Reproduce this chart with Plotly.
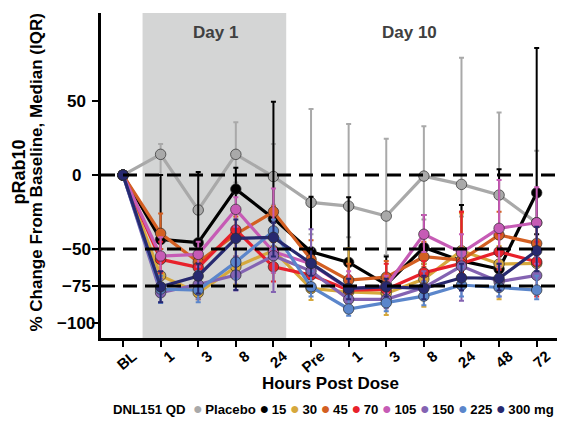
import plotly.graph_objects as go

# ---------------- data ----------------
tick_labels = ["BL", "1", "3", "8", "24", "Pre", "1", "3", "8", "24", "48", "72"]
x_idx = list(range(len(tick_labels)))

series_names = ["Placebo", "15", "30", "45", "70", "105", "150", "225", "300 mg"]
series_colors = ["#A9A9A9", "#000000", "#D6A83C", "#D35F22", "#E8212B",
                 "#C65BB5", "#8463B2", "#5B86CB", "#27296F"]

placebo = [0, 14, -23.6, 14, -1, -18.5, -21, -27.7, -0.7, -6.3, -13.5, -32.2]
d15 = [0, -43.5, -45.7, -9.5, -29.3, -51.8, -59, -74, -48.9, -58, -63.5, -12]
d30 = [0, -68, -79.5, -62, -51, -76.6, -79, -80, -70.3, -51.1, -60.1, -59.7]
d45 = [0, -39.4, -58.8, -40, -24.8, -57, -71, -69, -55.2, -57.4, -40.5, -46.2]
d70 = [0, -57, -62.4, -37, -62, -67.6, -77.7, -77.3, -66, -59.7, -51.8, -58.6]
d105 = [0, -54.7, -53.6, -23.2, -51.8, -60, -77, -75, -40, -52.5, -36, -32.2]
d150 = [0, -79.5, -73.9, -67.6, -54.5, -64.9, -84, -84, -76, -61.5, -72, -67.8]
d225 = [0, -77, -77.7, -58.8, -37.8, -75.5, -90.5, -86.3, -81.8, -74.3, -75.9, -77.7]
d300 = [0, -75.5, -68.2, -42.8, -42.1, -59.7, -76.6, -75.5, -76.6, -69.4, -69.8, -51.1]

# interquartile bounds (Q3 upper, Q1 lower)
placebo_q3 = [0, 21, 0, 35.6, 21, 44.6, 34.5, 24.5, 33, 79.3, 42.3, 16.4]
placebo_q1 = [0, 0, -45, -5, -20, -40, -42, -54, -30, -28, -34, -45]
d15_q3 = [0, 0, 2, 5, 49.5, -14.6, -15, -55, -27, -20.3, 4, 85.8]
d15_q1 = [0, -50, -55, -40, -45, -62, -68, -80, -60, -65, -72, -40]
d30_q3 = [0, -55, -60, -45, -40, -65, -49.5, -70, -60, -26, -48, -52]
d30_q1 = [0, -80, -84, -74, -66, -84.5, -85, -94.6, -89, -70, -84, -70]
d45_q3 = [0, -26, -50, -28, -21, -44, -60, -58, -45, -24.8, -24.8, -30]
d45_q1 = [0, -50, -68, -55, -45, -68, -78, -77, -62, -66, -55, -60]
d70_q3 = [0, -45, -55, -25, -50, -58, -68, -60, -58, -24.8, -40, -45]
d70_q1 = [0, -66, -72, -50, -72, -74, -82, -84, -72, -66, -64, -82]
d105_q3 = [0, -42, -45, -15, -9, -50, -65, -68, -27, -40, -3.4, -8.3]
d105_q1 = [0, -65, -62, -35, -66, -68, -82, -80, -52, -63, -62, -60]
d150_q3 = [0, -70, -65, -55, -40, -36.7, -75, -76, -65, -50, -60, -55]
d150_q1 = [0, -86, -84, -78, -79, -75, -90, -90, -84, -85, -82, -78]
d225_q3 = [0, -68, -65, -45, -30, -65, -82, -78, -72, -62, -68, -68]
d225_q1 = [0, -86.5, -86, -70, -50, -82, -95, -92, -88, -82, -82, -84]
d300_q3 = [0, -65, -60, -30, -32, -50, -70, -70, -68, -60, -60, -35]
d300_q1 = [0, -86, -80, -77.7, -55, -68, -84, -82, -84, -78, -78, -65]

y_ticks = [50, 0, -50, -75, -100]
y_tick_text = ["50", "0", "\u221250", "\u221275", "\u2212100"]
ref_lines = [0, -50, -75]

medians = [placebo, d15, d30, d45, d70, d105, d150, d225, d300]
q3s = [placebo_q3, d15_q3, d30_q3, d45_q3, d70_q3, d105_q3, d150_q3, d225_q3, d300_q3]
q1s = [placebo_q1, d15_q1, d30_q1, d45_q1, d70_q1, d105_q1, d150_q1, d225_q1, d300_q1]

FONT = "Liberation Sans"

# page body has an 8px margin; the plot area is placed to land at
# x 101..557, y 13..338 of the window
PL, PT, PW, PH = 93, 5, 456, 325

fig = go.Figure()

for name, col, med, hi, lo in zip(series_names, series_colors, medians, q3s, q1s):
    plus = [max(h - m, 0) for h, m in zip(hi, med)]
    minus = [max(m - l, 0) for l, m in zip(lo, med)]
    fig.add_trace(go.Scatter(
        x=x_idx, y=med, name=name, mode="lines+markers",
        line=dict(color=col, width=3.2),
        marker=dict(color=col, size=10.5, line=dict(color="rgba(40,40,40,0.85)", width=0.8)),
        error_y=dict(type="data", symmetric=False, array=plus, arrayminus=minus,
                     color=col, thickness=2, width=2.5),
        showlegend=False,
    ))

shapes = [dict(type="rect", xref="x", yref="paper", x0=0.52, x1=4.34, y0=0, y1=1,
               fillcolor="#D4D5D5", line=dict(width=0), layer="below")]
for v in ref_lines:
    shapes.append(dict(type="line", xref="paper", yref="y", x0=0, x1=1, y0=v, y1=v,
                       line=dict(color="black", width=3, dash="14px,8px"), layer="above"))

legend_text = "DNL151 QD  " + " ".join(
    f"<span style='color:{c};font-size:16px'>\u25CF</span>\u2009{n}"
    for n, c in zip(series_names, series_colors))


def px_x(px):
    return (px - 101) / PW


def px_y(py):
    return (338 - py) / PH


annotations = [
    dict(text="Day 1", x=2.45, y=96.6, xref="x", yref="y", showarrow=False,
         font=dict(family=FONT, size=17, color="#404040", weight="bold")),
    dict(text="Day 10", x=7.63, y=96.6, xref="x", yref="y", showarrow=False,
         font=dict(family=FONT, size=17, color="#404040", weight="bold")),
    dict(text="pRab10", x=px_x(18), y=px_y(172.5), xref="paper", yref="paper",
         textangle=-90, showarrow=False, xanchor="center", yanchor="middle",
         font=dict(family=FONT, size=18, color="black", weight="bold")),
    dict(text="% Change From Baseline, Median (IQR)", x=px_x(36), y=px_y(172.5),
         xref="paper", yref="paper", textangle=-90, showarrow=False,
         xanchor="center", yanchor="middle",
         font=dict(family=FONT, size=17, color="black", weight="bold")),
    dict(text="Hours Post Dose", x=px_x(330), y=px_y(383), xref="paper", yref="paper",
         showarrow=False, xanchor="center", yanchor="middle",
         font=dict(family=FONT, size=17, color="black", weight="bold")),
    dict(text=legend_text, x=px_x(333), y=px_y(408), xref="paper", yref="paper",
         showarrow=False, xanchor="center", yanchor="middle",
         font=dict(family=FONT, size=13.2, color="black", weight="bold")),
]
for v, t in zip(y_ticks, y_tick_text):
    annotations.append(dict(text=t, x=px_x(76), y=v, xref="paper", yref="y",
                            showarrow=False, xanchor="center", yanchor="middle",
                            font=dict(family=FONT, size=17, color="black", weight="bold")))

fig.update_layout(
    width=570 - 8, height=428 - 8,
    margin=dict(l=PL, r=570 - 8 - PL - PW, t=PT, b=428 - 8 - PT - PH),
    plot_bgcolor="white", paper_bgcolor="white",
    showlegend=False,
    shapes=shapes, annotations=annotations,
    font=dict(family=FONT, color="black"),
    xaxis=dict(range=[-0.585, 11.54], tickvals=x_idx, ticktext=tick_labels,
               tickangle=-40, ticks="outside", ticklen=6, tickwidth=2, tickcolor="black",
               showline=True, linewidth=2.5, linecolor="black", showgrid=False, zeroline=False,
               tickfont=dict(family=FONT, size=15, color="black", weight="bold"),
               ticklabelshift=10, ticklabelstandoff=-5),
    yaxis=dict(range=[-110.1, 109.5], tickvals=y_ticks, ticks="outside", ticklen=6, tickwidth=2,
               tickcolor="black", showline=True, linewidth=2.5, linecolor="black",
               showgrid=False, zeroline=False, showticklabels=False),
)

fig.write_html("out.html")
